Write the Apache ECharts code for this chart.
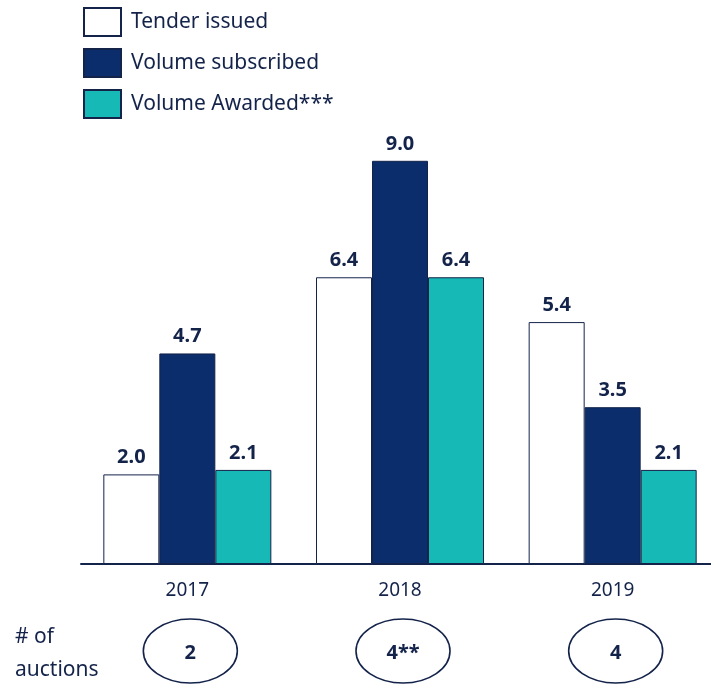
<!DOCTYPE html>
<html>
<head>
<meta charset="utf-8">
<title>Tenders and volumes</title>
<script src="https://cdn.jsdelivr.net/npm/echarts@6/dist/echarts.min.js"></script>
<style>
  html, body { margin: 0; padding: 0; background: #fff; overflow: hidden; }
  /* a little wider than the window: the axis runs off the right edge */
  #chart { width: 719px; height: 684px; }
</style>
</head>
<body>
<div id="chart"></div>
<script>
var years = ['2017', '2018', '2019'];
var tenderIssued = [2.0, 6.4, 5.4];
var volumeSubscribed = [4.7, 9.0, 3.5];
var volumeAwarded = [2.1, 6.4, 2.1];
var auctions = ['2', '4**', '4'];

var ink = '#14234a';
var navy = '#0b2d6b';
var teal = '#17b9b6';
var font = 'Noto Sans';

var chart = echarts.init(document.getElementById('chart'));

function barSeries(name, data, fill) {
  return {
    name: name,
    type: 'bar',
    data: data,
    barWidth: 56,
    barGap: '0%',
    itemStyle: { color: fill, borderColor: ink, borderWidth: 1 },
    label: {
      show: true,
      position: 'top',
      distance: 7,
      formatter: function (p) { return p.value.toFixed(1); },
      color: ink,
      fontFamily: font,
      fontWeight: 'bold',
      fontSize: 20
    }
  };
}

chart.setOption({
  animation: false,
  legend: {
    orient: 'vertical',
    left: 78,
    top: 1,
    itemWidth: 37,
    itemHeight: 28,
    itemGap: 9,
    icon: 'rect',
    textStyle: { color: ink, fontFamily: font, fontSize: 21, lineHeight: 28, padding: [4, 0, 0, 5] }
  },
  grid: { left: 81, top: 116, right: 0, height: 448 },
  xAxis: {
    type: 'category',
    data: years,
    axisTick: { show: false },
    axisLine: { lineStyle: { color: ink, width: 2 } },
    axisLabel: { color: ink, fontFamily: font, fontSize: 19, margin: 17 }
  },
  yAxis: { type: 'value', min: 0, max: 10, show: false },
  series: [
    barSeries('Tender issued', tenderIssued, '#ffffff'),
    barSeries('Volume subscribed', volumeSubscribed, navy),
    barSeries('Volume Awarded***', volumeAwarded, teal)
  ]
});

// auction count ellipses under each year, placed from the category axis
var graphics = [{
  type: 'text',
  left: 15,
  top: 621,
  style: { text: '# of\nauctions', fill: ink, font: '21px "' + font + '"', lineHeight: 33 }
}];
years.forEach(function (y, i) {
  var cx = chart.convertToPixel({ xAxisIndex: 0 }, y) + 3;
  graphics.push({
    type: 'ellipse',
    shape: { cx: cx, cy: 651, rx: 47, ry: 32 },
    style: { fill: 'none', stroke: ink, lineWidth: 1.6 }
  });
  graphics.push({
    type: 'text',
    x: cx,
    y: 653,
    style: {
      text: auctions[i], fill: ink, align: 'center', verticalAlign: 'middle',
      font: 'bold 20px "' + font + '"'
    }
  });
});
chart.setOption({ graphic: graphics });
</script>
</body>
</html>
